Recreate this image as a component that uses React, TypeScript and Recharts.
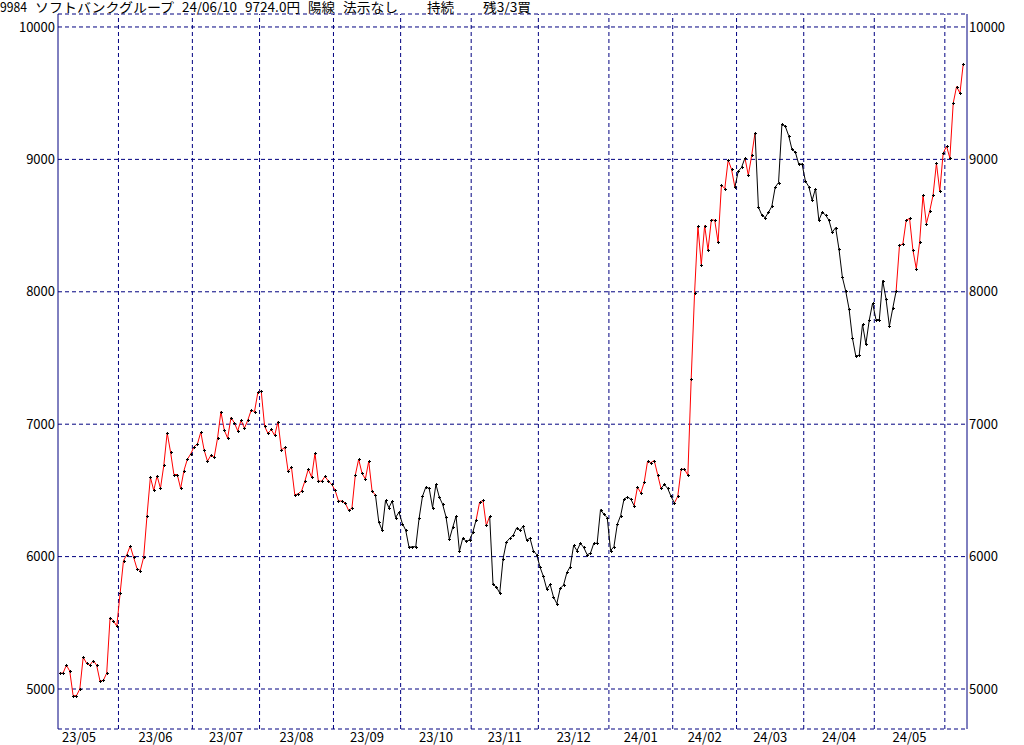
import React from "react";
import { LineChart, Line, XAxis, YAxis, CartesianGrid, ReferenceLine } from "recharts";

// daily closes, one array per month
const may23 = [5120, 5120, 5180, 5135, 4950, 4950, 5000, 5240, 5195, 5180, 5215, 5180, 5060, 5065, 5120, 5540, 5515, 5475];
const jun23 = [5725, 5970, 6015, 6080, 5995, 5910, 5895, 5995, 6310, 6600, 6500, 6610, 6515, 6690, 6935, 6790, 6620, 6620, 6515, 6650, 6735, 6775];
const jul23 = [6830, 6850, 6940, 6805, 6720, 6765, 6750, 6895, 7095, 6955, 6895, 7050, 7010, 6950, 7030, 6970, 7030, 7105, 7095, 7240];
const aug23 = [7250, 6985, 6930, 6960, 6915, 7020, 6805, 6825, 6645, 6675, 6465, 6475, 6495, 6570, 6660, 6600, 6780, 6570, 6570, 6605, 6570, 6545];
const sep23 = [6500, 6420, 6420, 6405, 6350, 6365, 6615, 6735, 6630, 6585, 6720, 6495, 6465, 6260, 6200, 6425, 6370, 6420, 6295, 6335];
const oct23 = [6250, 6200, 6070, 6075, 6075, 6290, 6455, 6525, 6515, 6370, 6545, 6450, 6395, 6300, 6130, 6220, 6305, 6040, 6140, 6115, 6125];
const nov23 = [6185, 6280, 6410, 6425, 6235, 6305, 5790, 5770, 5725, 5985, 6110, 6140, 6160, 6215, 6200, 6230, 6125, 6140, 6045, 6015];
const dec23 = [5920, 5850, 5755, 5790, 5695, 5645, 5760, 5785, 5880, 5925, 6085, 6045, 6100, 6070, 6015, 6025, 6100, 6100, 6355, 6320, 6295];
const jan24 = [6045, 6075, 6245, 6310, 6435, 6450, 6435, 6385, 6525, 6480, 6560, 6720, 6710, 6725, 6620, 6515, 6545, 6515, 6455];
const feb24 = [6405, 6455, 6660, 6660, 6615, 7345, 7990, 8495, 8205, 8500, 8315, 8545, 8540, 8375, 8805, 8780, 8995, 8925, 8790];
const mar24 = [8910, 8940, 9010, 8880, 9030, 9200, 8640, 8580, 8560, 8600, 8645, 8790, 8825, 9265, 9250, 9180, 9075, 9055, 8965, 8965];
const apr24 = [8835, 8795, 8690, 8780, 8540, 8600, 8580, 8540, 8450, 8485, 8320, 8110, 8005, 7870, 7650, 7515, 7520, 7755, 7605, 7785, 7915];
const may24 = [7790, 7790, 8085, 7945, 7740, 7875, 8005, 8350, 8360, 8540, 8555, 8315, 8175, 8375, 8730, 8515, 8610, 8730, 8970, 8760, 9045];
const jun24 = [9100, 9010, 9425, 9550, 9500, 9724];

const monthSeries = [may23, jun23, jul23, aug23, sep23, oct23, nov23, dec23, jan24, feb24, mar24, apr24, may24, jun24];
const monthLabels = ["23/05", "23/06", "23/07", "23/08", "23/09", "23/10", "23/11", "23/12", "24/01", "24/02", "24/03", "24/04", "24/05"];

// point index ranges where the line is drawn red (rest is black)
const redRuns = [[0, 94], [124, 128], [171, 179], [183, 201], [204, 207], [249, 269]];

const priceTicks = [5000, 6000, 7000, 8000, 9000, 10000];

// header text, placed on a grid of half-width character cells
const titleParts = [
  { t: "9984", col: 0, w: 4 },
  { t: "ソフトバンクグループ", col: 5, w: 20 },
  { t: "24/06/10", col: 26, w: 8 },
  { t: "9724.0円", col: 35, w: 8 },
  { t: "陽線", col: 44, w: 4 },
  { t: "法示なし", col: 49, w: 8 },
  { t: "持続", col: 61, w: 4 },
  { t: "残3/3買", col: 69, w: 7 },
];

const NAVY = "#000080";
const FONT = "'Noto Sans CJK JP', 'Noto Sans', sans-serif";
const CELL = 7;

const closes = monthSeries.flat();
const monthStarts: number[] = [];
let acc = 0;
monthSeries.forEach((m) => {
  monthStarts.push(acc);
  acc += m.length;
});

const segRed = closes.map((_, i) => redRuns.some(([a, b]) => i > a && i <= b));
const runs: { from: number; to: number; red: boolean }[] = [];
for (let i = 1; i < closes.length; i++) {
  const last = runs[runs.length - 1];
  if (last && last.red === segRed[i] && last.to === i - 1) last.to = i;
  else runs.push({ from: i - 1, to: i, red: segRed[i] });
}

const data = closes.map((c, i) => {
  const row: any = { i, close: c };
  runs.forEach((r, k) => {
    if (i >= r.from && i <= r.to) row["s" + k] = c;
  });
  return row;
});

const xDomain = [-0.5, closes.length + 0.1];
const gridTicks = monthStarts.slice(1).map((s) => s - 0.5);
const labelTicks = monthLabels.map((_, k) =>
  k === 0 ? -0.5 : (monthStarts[k] + monthStarts[k + 1] - 1) / 2
);

const PlusDot = (p: any) => {
  const x = Math.round(p.cx);
  const y = Math.round(p.cy);
  return (
    <g shapeRendering="crispEdges">
      <rect x={x - 1} y={y} width={3} height={1} fill="#000" />
      <rect x={x} y={y - 1} width={1} height={3} fill="#000" />
    </g>
  );
};

const MonthTick = (p: any) => {
  const first = p.index === 0;
  return (
    <text
      x={first ? p.x + 4 : p.x}
      y={p.y + 13}
      textAnchor={first ? "start" : "middle"}
      fontSize={13}
      fontFamily={FONT}
      fill="#000"
    >
      {monthLabels[p.index]}
    </text>
  );
};

export default function App() {
  return (
    <div style={{ position: "absolute", left: 0, top: 0, width: 1024, height: 745, background: "#fff" }}>
      <LineChart
        width={1024}
        height={745}
        data={data}
        margin={{ top: 14, right: 0, bottom: 0, left: 0 }}
        style={{ position: "absolute", left: 0, top: 0 }}
      >
        <CartesianGrid xAxisId="g" yAxisId="l" vertical={false} stroke={NAVY} strokeDasharray="4 3" />
        {gridTicks.map((t) => (
          <ReferenceLine key={"v" + t} xAxisId="g" yAxisId="l" x={t} stroke={NAVY} strokeDasharray="4 3" />
        ))}
        <XAxis
          xAxisId="g"
          type="number"
          dataKey="i"
          domain={xDomain}
          ticks={gridTicks}
          interval={0}
          tick={false}
          tickLine={false}
          axisLine={{ stroke: NAVY }}
          height={0}
          allowDataOverflow
        />
        <XAxis
          xAxisId="lbl"
          type="number"
          dataKey="i"
          domain={xDomain}
          ticks={labelTicks}
          interval={0}
          tick={<MonthTick />}
          tickLine={false}
          tickSize={0}
          tickMargin={0}
          axisLine={false}
          height={16}
          allowDataOverflow
        />
        <XAxis
          xAxisId="top"
          orientation="top"
          type="number"
          dataKey="i"
          domain={xDomain}
          tick={false}
          tickLine={false}
          axisLine={{ stroke: NAVY }}
          height={0}
          allowDataOverflow
        />
        <YAxis
          yAxisId="l"
          domain={[4698, 10098]}
          ticks={priceTicks}
          interval={0}
          width={58}
          tickLine={false}
          tickSize={3}
          tickMargin={0}
          axisLine={{ stroke: NAVY }}
          tick={{ fill: "#000", fontSize: 13, fontFamily: FONT }}
          allowDataOverflow
        />
        <YAxis
          yAxisId="r"
          orientation="right"
          domain={[4698, 10098]}
          ticks={priceTicks}
          interval={0}
          width={57}
          tickLine={false}
          tickSize={2}
          tickMargin={0}
          axisLine={{ stroke: NAVY }}
          tick={{ fill: "#000", fontSize: 13, fontFamily: FONT }}
          allowDataOverflow
        />
        {runs.map((r, k) => (
          <Line
            key={"s" + k}
            xAxisId="g"
            yAxisId="l"
            type="linear"
            dataKey={"s" + k}
            stroke={r.red ? "#ff0000" : "#000000"}
            strokeWidth={1}
            dot={false}
            activeDot={false}
            connectNulls={false}
            isAnimationActive={false}
          />
        ))}
        <Line
          xAxisId="g"
          yAxisId="l"
          type="linear"
          dataKey="close"
          stroke="none"
          dot={(p: any) => <PlusDot key={"d" + p.index} {...p} />}
          activeDot={false}
          isAnimationActive={false}
        />
      </LineChart>
      <svg width={1024} height={16} style={{ position: "absolute", left: 0, top: 0 }}>
        {titleParts.map((p) => (
          <text
            key={p.t}
            x={p.col * CELL}
            y={12}
            fontSize={13}
            fontFamily={FONT}
            fill="#000"
            textLength={p.w * CELL - 1}
            lengthAdjust="spacingAndGlyphs"
          >
            {p.t}
          </text>
        ))}
      </svg>
    </div>
  );
}
